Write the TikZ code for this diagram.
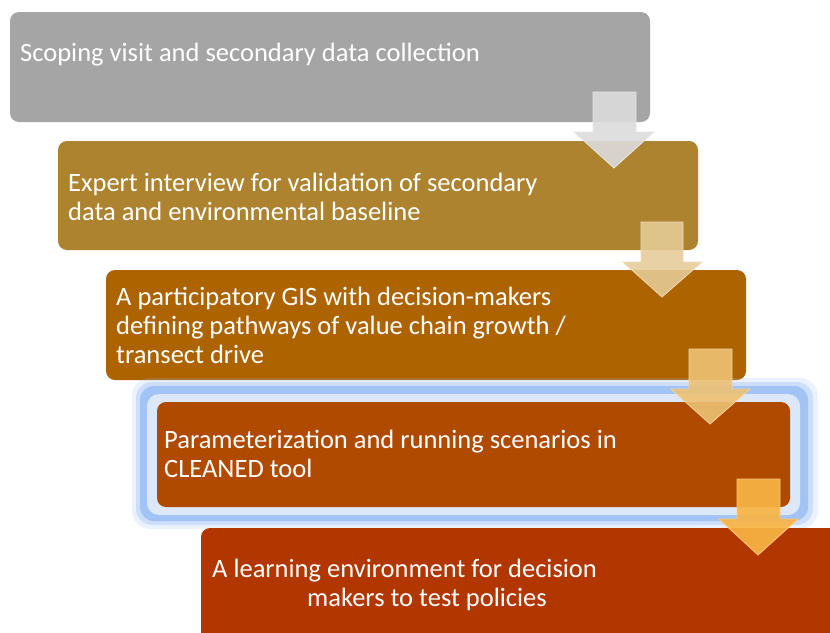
\documentclass[tikz,border=0pt]{standalone}
\usepackage{fontspec}
\setmainfont{Carlito}
\begin{document}
\begin{tikzpicture}[x=1pt,y=-1pt,
  box/.style={rounded corners=9pt},
  lbl/.style={anchor=base west,inner sep=0pt,text=white,font=\fontsize{26.5}{29}\selectfont,align=left},
  arr/.style={line width=0.8pt,line join=miter}]
\definecolor{c1}{HTML}{A5A5A5}
\definecolor{c2}{HTML}{AD8330}
\definecolor{c3}{HTML}{AD6400}
\definecolor{c4}{HTML}{AF4A00}
\definecolor{c5}{HTML}{B23600}
\definecolor{glowA}{HTML}{9DC0F5}
\definecolor{glowB}{HTML}{DCE7F8}
\definecolor{a1}{HTML}{DCDCDC}
\definecolor{a2}{HTML}{E5CC98}
\definecolor{a3}{HTML}{EDC274}
\definecolor{a4}{HTML}{F8B445}
\useasboundingbox (0,0) rectangle (830,632);
\clip (0,0) rectangle (830,632);
% boxes
\fill[c1,box] (10,12) rectangle (650,122);
\node[inner sep=0pt,minimum width=640pt,minimum height=110pt] (b1) at (330,67) {};
\fill[c2,box] (58,141) rectangle (698,250);
\node[inner sep=0pt,minimum width=640pt,minimum height=109pt] (b2) at (378,195.5) {};
\fill[c3,box] (106,270) rectangle (746,380);
\node[inner sep=0pt,minimum width=640pt,minimum height=110pt] (b3) at (426,325) {};
% glow
\fill[glowA,opacity=0.2,rounded corners=18pt] (132,378) rectangle (818,529);
\fill[glowA,opacity=0.4,rounded corners=16pt] (136,382) rectangle (813,525);
\fill[glowA,opacity=0.9,rounded corners=14pt] (140,386) rectangle (808,521);
\fill[glowB,rounded corners=12pt] (147,394) rectangle (800,515);
\fill[c4,box] (157,402) rectangle (790,507);
\node[inner sep=0pt,minimum width=633pt,minimum height=105pt] (b4) at (473.5,454.5) {};
\fill[c5,box] (201,528) rectangle (860,680);
\node[inner sep=0pt,minimum width=659pt,minimum height=152pt] (b5) at (530.5,604) {};
% texts (anchor base = baseline of last line)
\node[lbl] (t1) at (20,61) {Scoping visit and secondary data collection};
\node[lbl] (t2) at (68,220) {Expert interview for validation of secondary\\data and environmental baseline};
\node[lbl] (t3) at (116,363) {A participatory GIS with decision-makers\\defining pathways of value chain growth /\\transect drive};
\node[lbl] (t4) at (164,477) {Parameterization and running scenarios in\\CLEANED tool};
\node[lbl] (t5) at (212,606) {A learning environment for decision\\\hspace*{95pt}makers to test policies};
% arrows
\filldraw[arr,fill=a1,draw=a1!70!white,fill opacity=0.9] (593,92) -- (636,92) -- (636,132) -- (654,132) -- (614,168) -- (574,132) -- (593,132) -- cycle;
\filldraw[arr,fill=a2,draw=a2!70!white,fill opacity=0.88] (641,222) -- (683,222) -- (683,262) -- (702,262) -- (662,297) -- (623,262) -- (641,262) -- cycle;
\filldraw[arr,fill=a3,draw=a3!70!white,fill opacity=0.9] (689,349) -- (732,349) -- (732,389) -- (750,389) -- (710,424) -- (671,389) -- (689,389) -- cycle;
\filldraw[arr,fill=a4,draw=a4!70!white,fill opacity=0.92] (737,479) -- (780,479) -- (780,519) -- (798,519) -- (758,555) -- (719,519) -- (737,519) -- cycle;
\end{tikzpicture}
\end{document}
